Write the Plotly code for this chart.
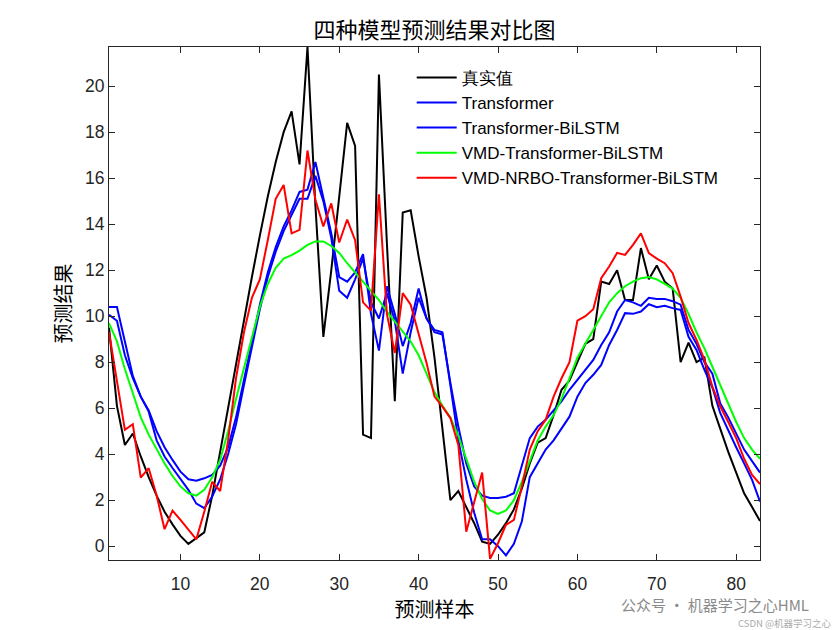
import plotly.graph_objects as go

x = list(range(1, 84))

true_vals = [9.5, 6.1, 4.4, 4.9, 3.9, 3.0, 2.2, 1.5, 0.95, 0.45,
             0.1, 0.35, 0.6, 2.2, 4.1, 6.1, 8.0, 9.8, 11.7, 13.5,
             15.2, 16.7, 18.0, 18.9, 16.6, 21.7, 14.8, 9.1, 12.0, 15.2,
             18.4, 17.4, 4.85, 4.7, 20.5, 13.2, 6.3, 14.5, 14.6, 12.6,
             10.8, 8.2, 5.2, 2.0, 2.4, 1.7, 1.0, 0.2, 0.1, 0.5,
             1.0, 1.6, 2.5, 3.6, 4.5, 4.7, 5.7, 6.8, 7.2, 8.0,
             8.8, 9.0, 11.5, 11.4, 12.0, 10.7, 10.7, 12.96, 11.6, 12.2,
             11.5, 11.2, 8.0, 8.85, 8.0, 8.2, 6.1, 5.1, 4.1, 3.2,
             2.3, 1.7, 1.1]

transformer = [10.4, 10.4, 8.9, 7.4, 6.5, 5.9, 5.0, 4.3, 3.75, 3.24,
               2.91, 2.85, 2.95, 3.1, 3.5, 4.3, 5.6, 7.2, 8.9, 10.5,
               11.9, 13.0, 13.9, 14.6, 15.4, 15.5, 16.7, 15.2, 13.6, 11.7,
               11.5, 11.9, 12.7, 10.1, 8.5, 11.3, 10.1, 8.7, 9.7, 11.2,
               9.9, 9.3, 9.2, 7.1, 5.2, 3.6, 2.6, 2.2, 2.1, 2.1,
               2.15, 2.3, 3.5, 4.7, 5.2, 5.5, 5.9, 6.3, 6.8, 7.25,
               7.7, 8.1, 8.75, 9.3, 10.2, 10.7, 10.6, 10.45, 10.8, 10.75,
               10.75, 10.65, 10.5, 9.4, 8.8, 8.0, 7.5, 6.2, 5.6, 4.9,
               4.2, 3.7, 3.2]

transformer_bilstm = [10.06, 9.8, 8.3, 7.3, 6.5, 5.85, 4.6, 3.9, 3.4, 2.95,
                      2.45, 1.85, 1.65, 2.16, 2.9, 4.0, 5.3, 7.0, 8.7, 10.3,
                      11.7, 12.8, 13.7, 14.4, 15.1, 15.1, 16.1, 15.0, 13.4, 11.1,
                      10.8, 11.6, 12.5, 10.6, 9.9, 11.0, 9.8, 7.5, 9.3, 10.8,
                      9.9, 9.4, 9.3, 7.0, 4.6, 2.9, 1.45, 0.3, 0.3, 0.0,
                      -0.4, 0.1, 1.07, 3.0, 3.6, 4.2, 4.6, 5.1, 5.63, 6.5,
                      7.09, 7.45, 7.88, 8.75, 9.4, 10.13, 10.1, 10.2, 10.52, 10.39,
                      10.45, 10.35, 10.27, 9.1, 8.53, 7.67, 6.9, 5.78, 5.0, 4.3,
                      3.6, 2.88, 1.94]

vmd_transformer_bilstm = [9.7, 8.9, 7.7, 6.6, 5.6, 4.85, 4.2, 3.6, 3.05, 2.6,
                          2.3, 2.2, 2.45, 3.0, 3.75, 5.0, 6.4, 7.7, 9.0, 10.4,
                          11.4, 12.1, 12.5, 12.65, 12.85, 13.1, 13.25, 13.25, 13.05, 12.75,
                          12.3, 11.9, 11.5, 11.1, 10.7, 10.2, 9.75, 9.3, 8.9, 8.3,
                          7.5, 6.7, 6.1, 5.6, 4.8, 3.8, 2.8, 2.05, 1.55, 1.4,
                          1.55, 2.0, 2.8, 3.7, 4.6, 5.2, 5.7, 6.4, 7.3, 8.2,
                          8.8, 9.4, 10.0, 10.6, 11.0, 11.3, 11.5, 11.65, 11.7, 11.6,
                          11.4, 11.2, 10.8, 10.1, 9.3, 8.6, 7.8, 7.0, 6.2, 5.4,
                          4.7, 4.2, 3.8]

vmd_nrbo_transformer_bilstm = [9.3, 7.2, 5.06, 5.3, 2.98, 3.39, 2.2, 0.74, 1.55, 1.14,
                               0.71, 0.3, 1.5, 2.8, 2.4, 4.6, 7.3, 9.3, 10.8, 11.6,
                               13.3, 15.1, 15.7, 13.6, 13.75, 17.2, 15.06, 13.9, 14.9, 13.2,
                               14.2, 13.3, 10.6, 10.24, 15.3, 10.1, 8.4, 11.0, 10.5, 9.26,
                               7.96, 6.5, 6.07, 5.57, 4.4, 0.63, 1.9, 3.2, -0.55, 0.13,
                               0.93, 1.14, 2.6, 4.2, 5.0, 5.5, 6.5, 7.3, 8.0, 9.8,
                               10.0, 10.3, 11.65, 12.16, 12.75, 12.66, 13.1, 13.6, 12.74, 12.5,
                               12.3, 11.87, 10.85, 9.7, 8.97, 8.1, 6.94, 6.07, 5.4, 4.7,
                               3.8, 3.1, 2.7]

names = ["真实值", "Transformer", "Transformer-BiLSTM",
         "VMD-Transformer-BiLSTM", "VMD-NRBO-Transformer-BiLSTM"]
series = [true_vals, transformer, transformer_bilstm,
          vmd_transformer_bilstm, vmd_nrbo_transformer_bilstm]
colors = ["#000000", "#0000ff", "#0000ff", "#00ff00", "#ff0000"]

x_ticks = [10, 20, 30, 40, 50, 60, 70, 80]
y_ticks = [0, 2, 4, 6, 8, 10, 12, 14, 16, 18, 20]

fig = go.Figure()
for nm, ys, c in zip(names, series, colors):
    fig.add_trace(go.Scatter(x=x, y=ys, mode="lines", name=nm,
                             line=dict(color=c, width=2)))

axis_common = dict(showline=True, linecolor="#262626", linewidth=1,
                   mirror="ticks", ticks="inside", ticklen=6,
                   tickcolor="#262626", showgrid=False, zeroline=False,
                   tickfont=dict(family="Liberation Sans, Arial", size=17.5, color="#262626"))

fig.update_layout(
    width=840, height=630,
    margin=dict(l=101, r=88, t=39, b=78),
    paper_bgcolor="white", plot_bgcolor="white",
    title=dict(text="四种模型预测结果对比图", x=0.5077, xanchor="center",
               y=0.965, yanchor="middle",
               font=dict(family="Noto Sans CJK SC", size=22, color="#000000")),
    xaxis=dict(range=[1, 83], tickvals=x_ticks, ticklabelstandoff=8,
               title=dict(text="预测样本", standoff=7,
                          font=dict(family="Noto Sans CJK SC", size=20, color="#000000")),
               **axis_common),
    yaxis=dict(range=[-0.6, 21.7], tickvals=y_ticks,
               title=dict(text="预测结果", standoff=8,
                          font=dict(family="Noto Sans CJK SC", size=20, color="#000000")),
               **axis_common),
    legend=dict(x=0.465, y=0.975, xanchor="left", yanchor="top",
                bgcolor="rgba(255,255,255,0)", borderwidth=0,
                font=dict(family="Liberation Sans, Arial", size=17, color="#000000"),
                tracegroupgap=0, itemwidth=40),
    showlegend=True,
)

fig.add_annotation(text="公众号 · 机器学习之心HML", xref="paper", yref="paper",
                   x=1.077, y=-0.087, xanchor="right", yanchor="middle",
                   showarrow=False, borderpad=0,
                   font=dict(family="Noto Sans CJK SC", size=15, color="#8a8a8a"))
fig.add_annotation(text="CSDN @机器学习之心", xref="paper", yref="paper",
                   x=1.11, y=-0.1225, xanchor="right", yanchor="middle",
                   showarrow=False, borderpad=0,
                   font=dict(family="Noto Sans CJK SC", size=9.5, color="#aaaaaa"))

fig.write_html("out.html")
